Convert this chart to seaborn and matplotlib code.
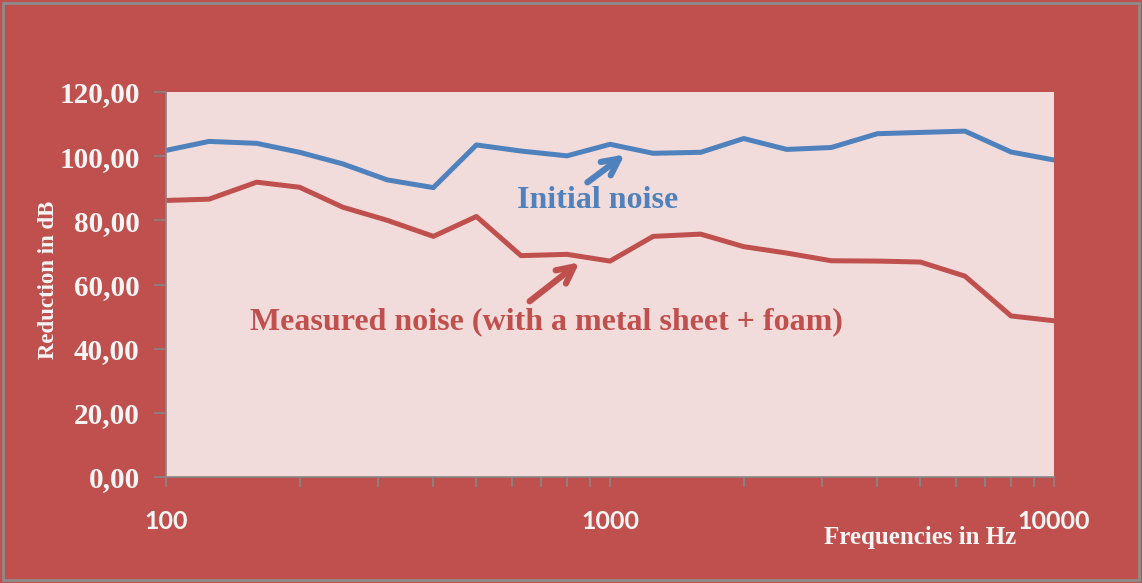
import numpy as np
import pandas as pd
import matplotlib
matplotlib.use('Agg')
import matplotlib.pyplot as plt
import matplotlib.ticker as mticker
from matplotlib.patches import Rectangle
import seaborn as sns

# third-octave band centre frequencies (Hz)
frequencies = [100, 125, 160, 200, 250, 315, 400, 500, 630, 800, 1000,
               1250, 1600, 2000, 2500, 3150, 4000, 5000, 6300, 8000, 10000]
# levels (dB)
initial_noise = [101.8, 104.6, 104.0, 101.2, 97.6, 92.6, 90.2, 103.5, 101.6, 100.1, 103.7,
                 100.9, 101.2, 105.5, 102.1, 102.7, 107.0, 107.4, 107.8, 101.3, 98.8]
measured_noise = [86.2, 86.6, 91.9, 90.3, 84.1, 80.0, 75.0, 81.2, 69.0, 69.4, 67.3,
                  75.0, 75.7, 71.8, 69.8, 67.4, 67.3, 67.0, 62.6, 50.2, 48.7]
yticks = [0, 20, 40, 60, 80, 100, 120]
xticks = [100, 1000, 10000]

df = pd.DataFrame({'Frequency': frequencies,
                   'Initial noise': initial_noise,
                   'Measured noise': measured_noise})

outer_red = '#C0504D'
plot_bg = '#F2DCDB'
blue = '#4F81BD'
grey = '#868686'
white = '#F5F5F5'

fig = plt.figure(figsize=(11.42, 5.83), dpi=100)
fig.patch.set_facecolor(outer_red)
fig.patches.append(Rectangle((0.003, 0.005), 0.994, 0.99, transform=fig.transFigure,
                             fill=False, edgecolor='#8C8C8C', linewidth=2))
ax = fig.add_axes([0.1454, 0.1818, 0.7776, 0.6604])
ax.set_facecolor(plot_bg)

sns.lineplot(data=df, x='Frequency', y='Initial noise', ax=ax, color=blue, linewidth=3.6)
sns.lineplot(data=df, x='Frequency', y='Measured noise', ax=ax, color=outer_red, linewidth=3.6)

ax.set_xscale('log')
ax.set_xlim(100, 10000)
ax.set_ylim(0, 120)
ax.set_yticks(yticks)
ax.yaxis.set_major_formatter(mticker.FuncFormatter(lambda v, p: f'{v:.2f}'.replace('.', ',')))
ax.set_xticks(xticks)
ax.xaxis.set_major_formatter(mticker.FuncFormatter(lambda v, p: f'{int(v)}'))
ax.xaxis.set_minor_formatter(mticker.NullFormatter())

for side in ['top', 'right']:
    ax.spines[side].set_visible(False)
for side in ['left', 'bottom']:
    ax.spines[side].set_color(grey)
    ax.spines[side].set_linewidth(1.2)

ax.tick_params(axis='y', direction='out', length=9, width=1.2, color=grey, pad=10,
               labelcolor=white, labelsize=21)
ax.tick_params(axis='x', which='both', direction='out', length=7, width=1.2, color=grey,
               pad=17, labelcolor=white, labelsize=18)
for lab in ax.get_yticklabels():
    lab.set_fontfamily('Liberation Serif')
    lab.set_fontweight('bold')
for lab in ax.get_xticklabels():
    lab.set_fontfamily('Lato')
    lab.set_fontweight('bold')

ax.set_xlabel('Frequencies in Hz', fontfamily='Liberation Serif', fontweight='bold',
              fontsize=18, color=white)
ax.xaxis.set_label_coords(0.849, -0.128)
ax.set_ylabel('Reduction in dB', fontfamily='Liberation Serif', fontweight='bold',
              fontsize=16.5, color=white)
ax.yaxis.set_label_coords(-0.12, 0.512)

ax.annotate('', xy=(0.519, 0.842), xytext=(0.472, 0.761), xycoords='axes fraction',
            arrowprops=dict(arrowstyle='->', color=blue, lw=4.5, mutation_scale=30))
ax.text(0.486, 0.717, 'Initial noise', transform=ax.transAxes, ha='center', va='center',
        color=blue, fontsize=23, fontfamily='Liberation Serif', fontweight='bold')
ax.annotate('', xy=(0.468, 0.562), xytext=(0.407, 0.452), xycoords='axes fraction',
            arrowprops=dict(arrowstyle='->', color=outer_red, lw=4.5, mutation_scale=30))
ax.text(0.428, 0.403, 'Measured noise (with a metal sheet + foam)', transform=ax.transAxes,
        ha='center', va='center', color=outer_red, fontsize=23,
        fontfamily='Liberation Serif', fontweight='bold')

fig.savefig('out.png', dpi=100, facecolor=fig.get_facecolor())
